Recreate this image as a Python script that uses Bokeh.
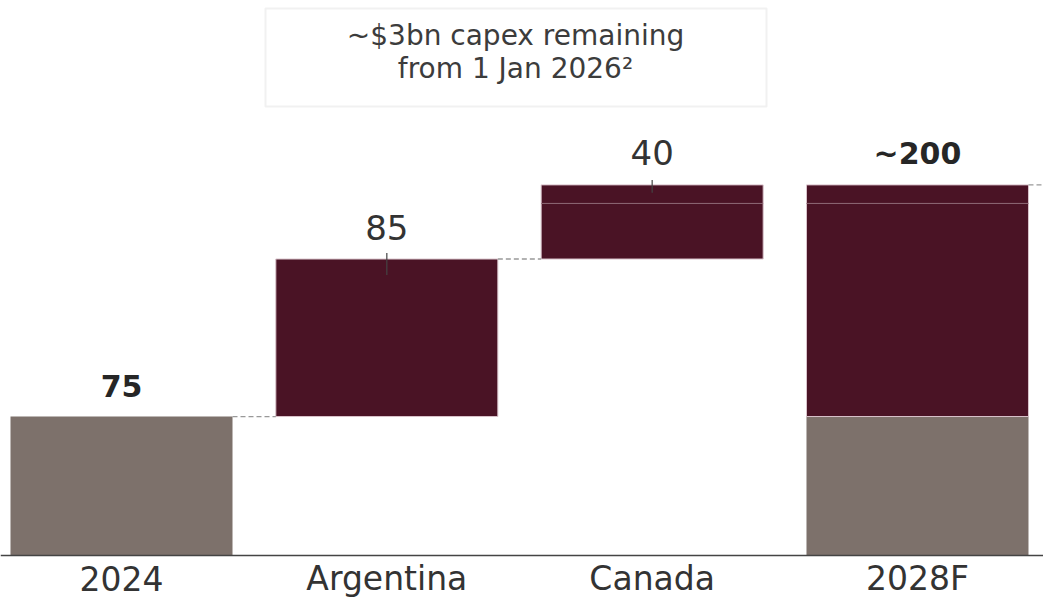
from bokeh.plotting import figure
from bokeh.models import Range1d, ColumnDataSource, BoxAnnotation, Label, Span
from bokeh.core.properties import value
from bokeh.embed import file_html
from bokeh.resources import INLINE

# ---------------- data ----------------
categories = ["2024", "Argentina", "Canada", "2028F"]
start_value = 75          # 2024 production
increments = [85, 40]     # Argentina, Canada additions
split_level = 190         # thin split line in the Canada / 2028F bars
value_labels = ["75", "85", "40", "~200"]
note_lines = ["~$3bn capex remaining", "from 1 Jan 2026\u00b2"]

# ---------------- style / layout ----------------
GREY = "#7d716b"
MAROON = "#4a1325"
TXT = "#333333"
FONT = "DejaVu Sans"

W, H = 1043, 598
PX_PER_CAT = 265.33
PX_PER_UNIT = 1.853
AXIS_PY = 555

pos = [i + 1 for i in range(len(categories))]
x_start = 1 - 121 / PX_PER_CAT
x_end = x_start + W / PX_PER_CAT
y_start = -(H - AXIS_PY) / PX_PER_UNIT
y_end = AXIS_PY / PX_PER_UNIT
bw = 222 / PX_PER_CAT


def px2x(px):  # pixel -> data x
    return x_start + px / PX_PER_CAT


def py2y(py):  # pixel -> data y
    return (AXIS_PY - py) / PX_PER_UNIT


cum1 = start_value + increments[0]
total = cum1 + increments[1]
tops = [start_value, cum1, total, total]

p = figure(width=W, height=H, output_backend="svg", toolbar_location=None,
           x_range=Range1d(x_start, x_end), y_range=Range1d(y_start, y_end),
           x_axis_location=None, y_axis_location=None,
           min_border_left=0, min_border_right=0, min_border_top=0, min_border_bottom=0)
p.outline_line_color = None
p.xgrid.grid_line_color = None
p.ygrid.grid_line_color = None
p.background_fill_color = "white"

# grey base bars (2024 and base of 2028F)
grey_src = ColumnDataSource(dict(x=[pos[0], pos[3]], bottom=[0, 0],
                                 top=[start_value, start_value]))
p.vbar(x="x", bottom="bottom", top="top", width=bw, source=grey_src,
       fill_color=GREY, line_color=None)

# maroon bars (Argentina, Canada, 2028F growth)
mar_src = ColumnDataSource(dict(x=[pos[1], pos[2], pos[3]],
                                bottom=[start_value, cum1, start_value],
                                top=[cum1, total, total]))
p.vbar(x="x", bottom="bottom", top="top", width=bw, source=mar_src,
       fill_color=MAROON, line_color="#d9c3cb", line_width=1)

# thin split line inside Canada / 2028F bars
p.segment(x0=[pos[2] - bw / 2, pos[3] - bw / 2], x1=[pos[2] + bw / 2, pos[3] + bw / 2],
          y0=[split_level, split_level], y1=[split_level, split_level],
          line_color="#8f6a77", line_width=1)

# dashed connectors
p.segment(x0=[pos[0] + bw / 2, pos[1] + bw / 2, pos[3] + bw / 2],
          x1=[pos[1] - bw / 2, pos[2] - bw / 2, x_end],
          y0=[start_value, cum1, total], y1=[start_value, cum1, total],
          line_color="#999999", line_width=1.3, line_dash="5 3")

# small leader ticks
p.segment(x0=[pos[1], pos[2]], x1=[pos[1], pos[2]],
          y0=[cum1 + 3.2, total + 2.7], y1=[cum1 - 8.6, total - 4.3],
          line_color="#444444", line_width=1.2)

# baseline (category axis line)
p.add_layout(Span(location=0, dimension="width", line_color="#444444", line_width=1.5))

# category labels
cat_src = ColumnDataSource(dict(x=pos, y=[0] * len(pos), t=categories))
p.text(x="x", y="y", text="t", source=cat_src, y_offset=23,
       text_align="center", text_baseline="middle", text_font=value(FONT),
       text_font_size="33px", text_color=TXT)

# value labels
norm_src = ColumnDataSource(dict(x=[pos[1], pos[2]], y=[tops[1], tops[2]],
                                 t=[value_labels[1], value_labels[2]]))
p.text(x="x", y="y", text="t", source=norm_src, y_offset=-32,
       text_align="center", text_baseline="middle", text_font=value(FONT),
       text_font_size="34px", text_color=TXT)
bold_src = ColumnDataSource(dict(x=[pos[0], pos[3]], y=[tops[0], tops[3]],
                                 t=[value_labels[0], value_labels[3]]))
p.text(x="x", y="y", text="t", source=bold_src, y_offset=-31,
       text_align="center", text_baseline="middle", text_font=value(FONT),
       text_font_size="30px", text_font_style="bold", text_color="#262626")

# note box
p.add_layout(BoxAnnotation(left=px2x(265), right=px2x(766), top=py2y(8), bottom=py2y(106),
                           fill_alpha=0, line_color="#cfcfcf", line_width=2))
p.add_layout(Label(x=px2x(515), y=py2y(35), text=note_lines[0], text_align="center",
                   text_baseline="middle", text_font=FONT, text_font_size="28px",
                   text_color="#3c3c3c"))
p.add_layout(Label(x=px2x(515), y=py2y(68), text=note_lines[1], text_align="center",
                   text_baseline="middle", text_font=FONT, text_font_size="28px",
                   text_color="#3c3c3c"))

open("out.html", "w").write(file_html(p, INLINE))
